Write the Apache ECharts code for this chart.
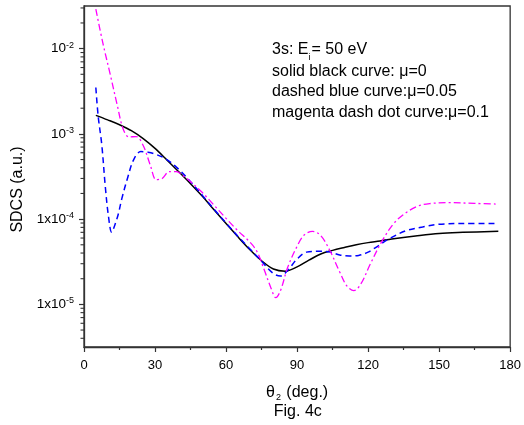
<!DOCTYPE html>
<html>
<head>
<meta charset="utf-8">
<script src="https://cdn.jsdelivr.net/npm/echarts@6/dist/echarts.min.js"></script>
<style>html,body{margin:0;padding:0;background:#fff}#c{width:524px;height:425px}</style>
</head>
<body>
<div id="c"></div>
<script>
// ---- data ----
const blackDeg = [5,10,15,20,25,30,35,40,45,50,55,60,65,70,75,80,85,90,95,100,105,110,115,120,125,130,140,150,160,175];
const blackVal = [1.65e-3,1.46e-3,1.28e-3,1.09e-3,8.8e-4,6.75e-4,4.95e-4,3.6e-4,2.6e-4,1.85e-4,1.28e-4,8.9e-5,6.2e-5,4.4e-5,3.25e-5,2.6e-5,2.45e-5,2.75e-5,3.3e-5,3.9e-5,4.3e-5,4.65e-5,5.0e-5,5.3e-5,5.55e-5,5.85e-5,6.35e-5,6.8e-5,7.0e-5,7.2e-5];

const blueDeg = [5,6,7.5,9,10.3,11.7,13,14.5,16,18.5,21,24,27,30,35,40,45,50,55,60,65,70,75,80,83,86,90,94,99,104,108,112,116,120,124,129,136,143,150,160,175];
const blueVal = [3.5e-3,1.6e-3,7.5e-4,2.4e-4,1.1e-4,7e-5,8.5e-5,1.15e-4,1.75e-4,3.1e-4,5e-4,6.2e-4,6.1e-4,5.8e-4,5e-4,3.85e-4,2.75e-4,1.9e-4,1.3e-4,9e-5,6.3e-5,4.5e-5,3.2e-5,2.3e-5,2.15e-5,2.5e-5,3.4e-5,4.1e-5,4.2e-5,4.1e-5,3.8e-5,3.7e-5,3.75e-5,4.1e-5,4.8e-5,5.9e-5,7.3e-5,8.1e-5,8.7e-5,8.9e-5,8.9e-5];

const magDeg = [5,8,11,14,16.5,19,22,25,28,30.5,33,36,39,42,45,50,55,60,65,70,73,76,79,81,83,86,90,93,96.5,100,104,108,111,114,117,121,126,131,136,141,146,154,165,175];
const magVal = [2.9e-2,1.15e-2,5.1e-3,2.2e-3,1.15e-3,9.2e-4,9.3e-4,7.3e-4,4.3e-4,2.9e-4,3.0e-4,3.6e-4,3.6e-4,3.2e-4,2.75e-4,2.05e-4,1.45e-4,1.02e-4,7.3e-5,5.4e-5,4.2e-5,2.6e-5,1.55e-5,1.2e-5,1.45e-5,2.7e-5,4.8e-5,6.5e-5,7.2e-5,6.4e-5,4.2e-5,2.4e-5,1.65e-5,1.45e-5,1.75e-5,3.0e-5,5.6e-5,9e-5,1.19e-4,1.42e-4,1.52e-4,1.56e-4,1.53e-4,1.5e-4];

const xTicks = [0,30,60,90,120,150,180];
const yMajorTicks = [1e-5,1e-4,1e-3,1e-2];
const yMantissa = ['1x10','1x10','10','10'];
const yExponent = ['-5','-4','-3','-2'];
const yMinorTicks = [4e-6,5e-6,6e-6,7e-6,8e-6,9e-6,
  2e-5,3e-5,4e-5,5e-5,6e-5,7e-5,8e-5,9e-5,
  2e-4,3e-4,4e-4,5e-4,6e-4,7e-4,8e-4,9e-4,
  2e-3,3e-3,4e-3,5e-3,6e-3,7e-3,8e-3,9e-3,
  2e-2,3e-2];
const Y_MIN = Math.pow(10,-5.5), Y_MAX = Math.pow(10,-1.5);

const annot = ['solid black curve: μ=0','dashed blue curve:μ=0.05','magenta dash dot curve:μ=0.1'];

const pair = (xs, ys) => xs.map((x,i) => [x, ys[i]]);
const FONT = '"Liberation Sans", Arial, sans-serif';
const AX = '#333';

const chart = echarts.init(document.getElementById('c'), null, {renderer:'canvas'});
chart.setOption({
  animation: false,
  backgroundColor: '#fff',
  grid: {left: 84, right: 12.5, top: 6, bottom: 78, show: true, borderColor: AX, borderWidth: 1.3, backgroundColor: 'transparent'},
  xAxis: {
    type: 'value', min: 0, max: 180, interval: 30,
    name: '{t|θ}{s|2}{t| (deg.)}', nameLocation: 'middle', nameGap: 37,
    nameTextStyle: {fontFamily: FONT, color: '#000', rich: {
      t: {fontSize: 16, fontFamily: FONT, color:'#000', lineHeight: 18, verticalAlign: 'middle'},
      s: {fontSize: 9, fontFamily: FONT, color:'#000', lineHeight: 10, verticalAlign: 'middle', padding: [10, 1, 0, 1]}
    }},
    axisLine: {show: true, lineStyle: {color: AX, width: 1.3}},
    axisTick: {show: true, inside: false, length: 5, lineStyle: {color: AX, width: 1.2}},
    minorTick: {show: true, splitNumber: 2, length: 3, lineStyle: {color: AX, width: 1.2}},
    axisLabel: {fontSize: 13, fontFamily: FONT, color: '#000', margin: 12, customValues: xTicks},
    splitLine: {show: false}
  },
  yAxis: {
    type: 'log', logBase: 10, min: Y_MIN, max: Y_MAX,
    name: 'SDCS (a.u.)', nameLocation: 'middle', nameGap: 53,
    nameTextStyle: {fontSize: 16, fontFamily: FONT, color: '#000', padding: [0, 26, 0, 0]},
    axisLine: {show: true, lineStyle: {color: AX, width: 1.3}},
    axisTick: {show: true, inside: false, length: 5, lineStyle: {color: AX, width: 1.2}, customValues: yMajorTicks},
    axisLabel: {margin: 10, customValues: yMajorTicks,
      formatter: v => {
        const i = yMajorTicks.findIndex(t => Math.abs(Math.log10(t) - Math.log10(v)) < 1e-6);
        return i >= 0 ? '{b|' + yMantissa[i] + '}{p|' + yExponent[i] + '}' : '';
      },
      rich: {
        b: {fontSize: 13.5, fontFamily: FONT, color: '#000', lineHeight: 16, verticalAlign: 'middle'},
        p: {fontSize: 9, fontFamily: FONT, color: '#000', lineHeight: 10, verticalAlign: 'middle', padding: [0, 0, 7, 0]}
      }},
    splitLine: {show: false}
  },
  series: [
    {type: 'line', name: 'mu0', data: pair(blackDeg, blackVal), smooth: 0.35, showSymbol: false,
      lineStyle: {color: '#000', width: 1.5, type: 'solid'}, z: 3},
    {type: 'line', name: 'mu005', data: pair(blueDeg, blueVal), smooth: 0.35, showSymbol: false,
      lineStyle: {color: '#0000ff', width: 1.5, type: [6,4]}, z: 4},
    {type: 'line', name: 'mu01', data: pair(magDeg, magVal), smooth: 0.35, showSymbol: false,
      lineStyle: {color: '#ff00ff', width: 1.3, type: [7,3,2,3]}, z: 5},
    {type: 'custom', name: 'yMinorTicks', silent: true, clip: false, z: 6,
      data: yMinorTicks.filter(v => v >= Y_MIN && v <= Y_MAX).map(v => [0, v]),
      renderItem: (params, api) => {
        const p = api.coord([api.value(0), api.value(1)]);
        return {type: 'line', shape: {x1: p[0] - 3.5, y1: p[1], x2: p[0], y2: p[1]},
          style: {stroke: AX, lineWidth: 1.1}};
      }}
  ],
  graphic: [
    {type: 'text', left: 272, top: 42, style: {text: '3s: E', font: '16px ' + FONT, fill: '#000'}},
    {type: 'text', left: 308.5, top: 53, style: {text: 'i', font: '9px ' + FONT, fill: '#000'}},
    {type: 'text', left: 311.5, top: 42, style: {text: '= 50 eV', font: '16px ' + FONT, fill: '#000'}},
    {type: 'text', left: 272, top: 63.5, style: {text: annot[0], font: '16px ' + FONT, fill: '#000'}},
    {type: 'text', left: 272, top: 84, style: {text: annot[1], font: '16px ' + FONT, fill: '#000'}},
    {type: 'text', left: 272, top: 104.5, style: {text: annot[2], font: '16px ' + FONT, fill: '#000'}},
    {type: 'text', x: 297.8, y: 411.5, style: {text: 'Fig. 4c', font: '16px ' + FONT, fill: '#000', align: 'center', verticalAlign: 'middle'}}
  ]
});
</script>
</body>
</html>
